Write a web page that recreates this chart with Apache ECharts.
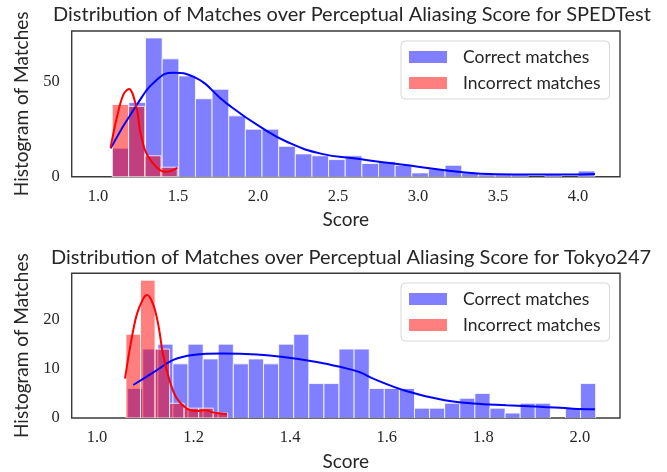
<!DOCTYPE html>
<html><head><meta charset="utf-8">
<script src="https://cdn.jsdelivr.net/npm/echarts@6/dist/echarts.min.js"></script>
<style>html,body{margin:0;padding:0;background:#fff}#c{width:667px;height:472px}</style>
</head><body><div id="c"></div>
<script>
// ---------- data ----------
const titleTop = 'Distribution of Matches over Perceptual Aliasing Score for SPEDTest';
const titleBottom = 'Distribution of Matches over Perceptual Aliasing Score for Tokyo247';
const seriesNames = ['Correct matches', 'Incorrect matches'];

// top (SPEDTest) histograms: bin start, bin width, counts
const topCorrectStart = 1.0894, topCorrectWidth = 0.104;
const topCorrectCounts = [15,39,73,62,53,41,46,32,25,25,16,12,11,9,11,7,8,6,2,4,6,2,1,1,1,0,1,0,3];
const topIncorrectStart = 1.0894, topIncorrectWidth = 0.1016;
const topIncorrectCounts = [38,37,11,5];
// top KDE curves [score, count]
const topCorrectKde = [[1.079,14.9],[1.242,37.7],[1.367,50.9],[1.47,54.7],[1.596,52.6],[1.804,38.6],[2.0125,26.3],[2.19,18.0],[2.40,12.0],[2.61,9.6],[2.78,7.6],[2.99,5.4],[3.28,2.4],[3.49,1.3],[3.70,1.1],[3.91,1.1],[4.106,1.4]];
const topIncorrectKde = [[1.079,15.3],[1.117,30.7],[1.158,43],[1.194,46.2],[1.242,36],[1.2625,24.6],[1.294,14],[1.335,7.9],[1.3875,3.5],[1.43,2.6],[1.496,4.7]];
const topXTicks = [1.0,1.5,2.0,2.5,3.0,3.5,4.0];
const topYTicks = [0,50];

// bottom (Tokyo247)
const botCorrectStart = 1.0635, botCorrectWidth = 0.03126;
const botCorrectCounts = [6,14,15,11,15,12,15,11,12,11,15,17,7,7,14,14,6,6,6,2,2,3,4,5,2,1,3,3,0,2,7];
const botIncorrectStart = 1.060, botIncorrectWidth = 0.0301;
const botIncorrectCounts = [17,28,14,3,2,2,1];
const botCorrectKde = [[1.075,6.7],[1.1236,9.7],[1.158,11.8],[1.199,12.8],[1.261,13.1],[1.331,12.9],[1.386,12.4],[1.455,11.4],[1.503,10.4],[1.5445,9.3],[1.572,8.0],[1.64,5.5],[1.72,3.6],[1.779,2.95],[1.848,2.6],[1.917,2.3],[1.986,1.9],[2.031,1.8]];
const botIncorrectKde = [[1.058,8.0],[1.068,14.1],[1.082,20.9],[1.096,24.3],[1.104,25.0],[1.117,22.9],[1.127,18.9],[1.137,12.8],[1.151,7.4],[1.165,4.0],[1.186,1.9],[1.206,1.4],[1.224,1.6],[1.241,1.1],[1.269,0.8]];
const botXTicks = [1.0,1.2,1.4,1.6,1.8,2.0];
const botYTicks = [0,10,20];

// ---------- styling ----------
const SANS = 'Lato';
const SERIF = 'Liberation Serif';
const TXT = '#262626';
const BLUE_FILL = 'rgba(0,0,255,0.5)';
const RED_FILL = 'rgba(255,0,0,0.5)';

function bins(start, width, counts){
  const out = [];
  counts.forEach((c,i)=>{ if (c>0) out.push([start+i*width, start+(i+1)*width, c]); });
  return out;
}
function histItem(fill){
  return function(params, api){
    const p0 = api.coord([api.value(0), api.value(2)]);
    const p1 = api.coord([api.value(1), 0]);
    return {type:'rect', shape:{x:p0[0], y:p0[1], width:p1[0]-p0[0], height:p1[1]-p0[1]},
      style:{fill:fill, stroke:'rgba(255,255,255,0.8)', lineWidth:1}};
  };
}
function xAxis(idx, min, max, ticks){
  return {type:'value', gridIndex:idx, min:min, max:max,
    name:'Score', nameLocation:'middle', nameGap:34,
    nameTextStyle:{fontFamily:SANS, fontSize:19, color:TXT},
    axisLine:{show:false}, axisTick:{show:false}, splitLine:{show:false},
    axisLabel:{customValues:ticks, margin:11, fontFamily:SERIF, fontSize:16.5, color:TXT,
      formatter:v=>Number(v).toFixed(1)}};
}
function yAxis(idx, max, interval, ticks){
  return {type:'value', gridIndex:idx, min:0, max:max, interval:interval,
    name:'Histogram of Matches', nameLocation:'middle', nameGap:40,
    nameTextStyle:{fontFamily:SANS, fontSize:19, color:TXT},
    axisLine:{show:false}, axisTick:{show:false}, splitLine:{show:false},
    axisLabel:{customValues:ticks, margin:12, fontFamily:SERIF, fontSize:16.5, color:TXT}};
}
function legend(top){
  return {left:401, top:top, orient:'vertical', itemWidth:38, itemHeight:12, itemGap:8,
    padding:[7,9,7,8], borderColor:'#d6d6d6', borderWidth:1, borderRadius:4,
    backgroundColor:'rgba(255,255,255,0.8)', icon:'rect', selectedMode:false,
    textStyle:{fontFamily:SANS, fontSize:17.5, color:TXT, padding:[0,0,0,11]},
    data:[{name:seriesNames[0], itemStyle:{color:BLUE_FILL}}, {name:seriesNames[1], itemStyle:{color:RED_FILL}}]};
}
function hist(name, idx, data, fill){
  return {type:'custom', name:name, xAxisIndex:idx, yAxisIndex:idx, data:data,
    encode:{x:[0,1], y:2}, itemStyle:{color:fill}, renderItem:histItem(fill), clip:true, silent:true};
}
function kde(idx, data, color, z, smooth){
  return {type:'line', xAxisIndex:idx, yAxisIndex:idx, data:data, smooth:smooth, showSymbol:false,
    lineStyle:{color:color, width:2}, itemStyle:{color:color}, z:z, silent:true};
}

const chart = echarts.init(document.getElementById('c'), null, {renderer:'canvas'});
chart.setOption({
  animation:false,
  backgroundColor:'#fff',
  title:[
    {text:titleTop, left:347, textAlign:'center', top:0, textStyle:{fontFamily:SANS, fontSize:20, fontWeight:'normal', color:TXT}},
    {text:titleBottom, left:346, textAlign:'center', top:243, textStyle:{fontFamily:SANS, fontSize:20, fontWeight:'normal', color:TXT}}
  ],
  grid:[
    {left:71.7, top:31, width:548.3, height:145.7, show:true, borderColor:'#3a3a3a', borderWidth:1.4, backgroundColor:'transparent'},
    {left:71.7, top:273.3, width:548.3, height:146.2, show:true, borderColor:'#3a3a3a', borderWidth:1.4, backgroundColor:'transparent'}
  ],
  xAxis:[xAxis(0, 0.836, 4.2625, topXTicks), xAxis(1, 0.9476, 2.083, botXTicks)],
  yAxis:[yAxis(0, 76.65, 50, topYTicks), yAxis(1, 29.4, 10, botYTicks)],
  legend:[legend(41), legend(283)],
  series:[
    hist(seriesNames[0], 0, bins(topCorrectStart, topCorrectWidth, topCorrectCounts), BLUE_FILL),
    hist(seriesNames[1], 0, bins(topIncorrectStart, topIncorrectWidth, topIncorrectCounts), RED_FILL),
    kde(0, topCorrectKde, '#0000ff', 5, 0.5),
    kde(0, topIncorrectKde, '#ff0000', 6, 0.35),
    hist(seriesNames[0], 1, bins(botCorrectStart, botCorrectWidth, botCorrectCounts), BLUE_FILL),
    hist(seriesNames[1], 1, bins(botIncorrectStart, botIncorrectWidth, botIncorrectCounts), RED_FILL),
    kde(1, botCorrectKde, '#0000ff', 5, 0.4),
    kde(1, botIncorrectKde, '#ff0000', 6, 0.35)
  ]
});
</script></body></html>
